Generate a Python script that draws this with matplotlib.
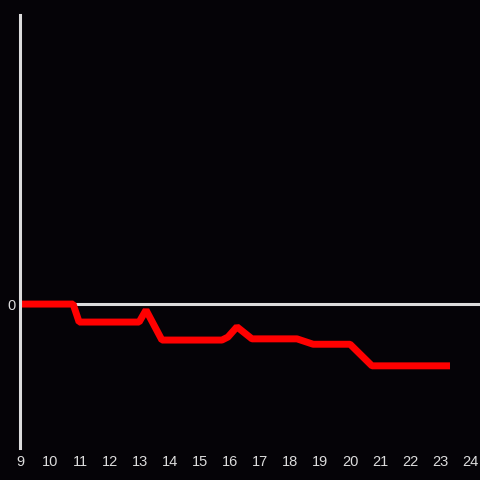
import matplotlib
matplotlib.use("Agg")
import matplotlib.pyplot as plt

# datos
t = [9.0, 10.77, 10.97, 12.97, 13.2, 13.73, 15.73, 15.93, 16.23, 16.73,
     18.23, 18.77, 20.0, 20.73, 23.33]
valor = [0, 0, -3.0, -3.0, -1.0, -6.0, -6.0, -5.5, -3.8, -5.8,
         -5.8, -6.7, -6.7, -10.3, -10.3]
xticks = list(range(9, 25))

bg = "#050307"
gris = "#dcdcdc"

fig = plt.figure(figsize=(4.8, 4.8), dpi=100, facecolor=bg)
ax = fig.add_axes([20 / 480, 1 - 448 / 480, 460 / 480, 433 / 480], facecolor=bg)

ax.axhline(0, color=gris, lw=2.2, zorder=1)
ax.plot(t, valor, color="#ff0000", lw=5, solid_joinstyle="bevel",
        solid_capstyle="butt", zorder=2)

ax.set_xlim(9, 24.33)
ax.set_ylim(-24, 48.2)
ax.set_xticks(xticks)
ax.set_yticks([0])
ax.tick_params(colors=gris, length=0, labelsize=10.5, pad=5)
ax.tick_params(axis="y", pad=3)
for lab in ax.get_xticklabels() + ax.get_yticklabels():
    lab.set_family("Liberation Sans")

for s in ["top", "right", "bottom"]:
    ax.spines[s].set_visible(False)
ax.spines["left"].set_color(gris)
ax.spines["left"].set_linewidth(2.2)

fig.savefig("out.png", dpi=100, facecolor=bg)
